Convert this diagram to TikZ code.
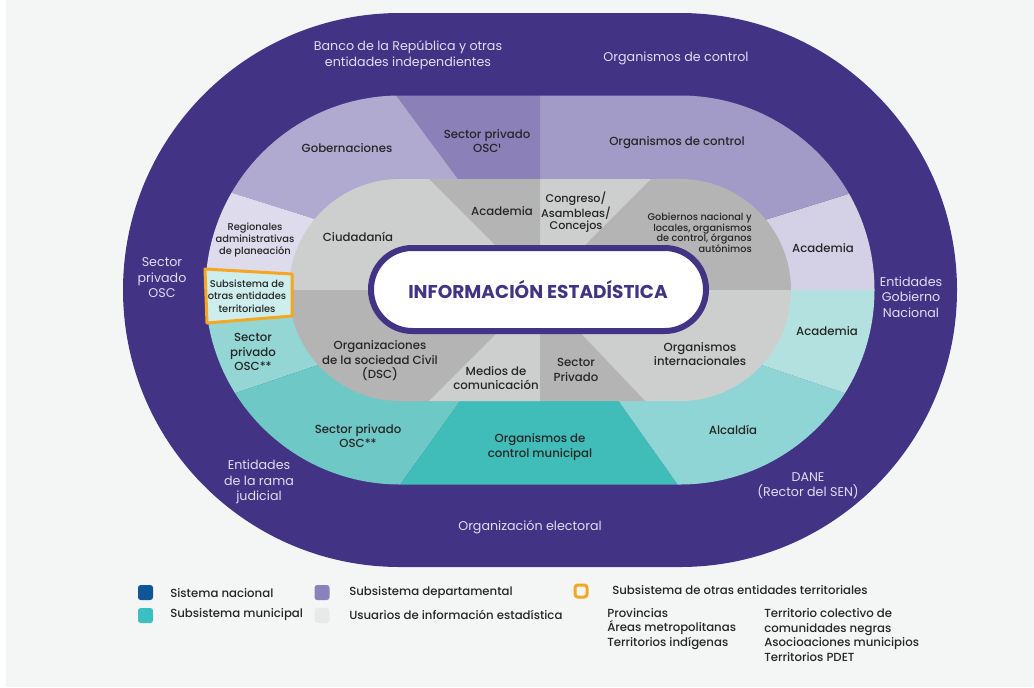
\documentclass[tikz,border=0pt]{standalone}
\usepackage{fontspec}
\setmainfont{Poppins}
\newfontfamily\popmed{Poppins Medium}
\definecolor{nacional}{HTML}{433385}
\definecolor{outtext}{HTML}{E2DEF2}
\definecolor{ink}{HTML}{262626}
\definecolor{panel}{HTML}{F4F6F6}
\definecolor{depA}{HTML}{B1AAD0}
\definecolor{depB}{HTML}{8C80B9}
\definecolor{depC}{HTML}{A39BC7}
\definecolor{depD}{HTML}{D4D0E6}
\definecolor{depE}{HTML}{DEDBEC}
\definecolor{munA}{HTML}{B3E1DF}
\definecolor{munB}{HTML}{90D5D5}
\definecolor{munC}{HTML}{40BCB9}
\definecolor{munD}{HTML}{6EC8C6}
\definecolor{munE}{HTML}{93D6D4}
\definecolor{usrL}{HTML}{CDCECE}
\definecolor{usrD}{HTML}{B4B4B4}
\definecolor{otras}{HTML}{F5A623}
\definecolor{otrasfill}{HTML}{CDEEED}
\definecolor{legblue}{HTML}{0F5597}
\definecolor{legteal}{HTML}{3CBFC0}
\definecolor{legpurple}{HTML}{8C80BD}
\definecolor{leggrey}{HTML}{E8E9E9}
% stadium of half height #1 round the two centres (400,290) and (680,290)
\newcommand\stadium[1]{(400,290-#1) -- (680,290-#1) arc[start angle=-90,end angle=90,radius=#1] -- (400,290+#1) arc[start angle=90,end angle=270,radius=#1] -- cycle}
% sector seen from the centre, angles counted anticlockwise
\newcommand\sectorfill[3]{\fill[#1] (540,290) -- ++(-#2:900) arc[start angle=-#2,end angle=-#3,radius=900] -- cycle;}
\begin{document}
\begin{tikzpicture}[x=0.75pt,y=-0.75pt,
    outlbl/.style={align=center, text=outtext, inner sep=0pt, font=\fontsize{9.5}{11.6}\selectfont},
    lbl/.style={align=center, text=ink, inner sep=0pt, font=\popmed\fontsize{8.8}{10.9}\selectfont},
    smalllbl/.style={align=center, text=ink, inner sep=0pt, font=\popmed\fontsize{7.4}{9.2}\selectfont},
    leglbl/.style={anchor=west, align=left, text=ink, inner sep=0pt, font=\popmed\fontsize{8.8}{11}\selectfont},
    legbox/.style={minimum width=11.25pt, minimum height=11.25pt, rounded corners=2pt, inner sep=0pt}]
\useasboundingbox (0,0) rectangle (1034,687);
\fill[white] (0,0) rectangle (1034,687);
\fill[panel] (6,0) rectangle (1034,687);
% sistema nacional
\fill[nacional] \stadium{277};
% subsistemas departamental y municipal
\begin{scope}
\clip \stadium{194.5};
\sectorfill{depD}{0}{17.3}
\sectorfill{depC}{17.3}{90}
\sectorfill{depB}{90}{126.5}
\sectorfill{depA}{126.5}{162.5}
\sectorfill{depE}{162.5}{180}
\sectorfill{munE}{180}{198.7}
\sectorfill{munD}{198.7}{234.3}
\sectorfill{munC}{234.3}{305.3}
\sectorfill{munB}{305.3}{341.3}
\sectorfill{munA}{341.3}{360}
\end{scope}
% usuarios
\begin{scope}
\clip \stadium{111};
\sectorfill{usrD}{0}{45}
\sectorfill{usrL}{45}{90}
\sectorfill{usrD}{90}{135}
\sectorfill{usrL}{135}{180}
\sectorfill{usrD}{180}{225}
\sectorfill{usrL}{225}{270}
\sectorfill{usrD}{270}{313.5}
\sectorfill{usrL}{313.5}{360}
\end{scope}
\fill[otrasfill, draw=otras, line width=2.25pt, line join=round] (205,269) -- (292,274) -- (292,316) -- (207,323) -- cycle;
\draw[nacional, fill=white, line width=4.5pt, rounded corners=31pt] (371,248) rectangle (706,331);
\node[text=nacional, font=\bfseries\fontsize{13.9}{16}\selectfont] (info) at (538,290) {INFORMACIÓN ESTADÍSTICA};

% anillo exterior
\node[outlbl] (banco) at (408,55) {Banco de la República y otras\\entidades independientes};
\node[outlbl] (controlN) at (676,58) {Organismos de control};
\node[outlbl] (privN) at (162,278) {Sector\\privado\\OSC};
\node[outlbl] (gobN) at (911,297) {Entidades\\Gobierno\\Nacional};
\node[outlbl] (judicial) at (259,482) {Entidades\\de la rama\\judicial};
\node[outlbl] (electoral) at (530,527) {Organización electoral};
\node[outlbl] (dane) at (808,486) {DANE\\(Rector del SEN)};

% anillo medio
\node[lbl] (gobernaciones) at (347,148) {Gobernaciones};
\node[lbl] (privD) at (487,141) {Sector privado\\OSC¹};
\node[lbl] (controlD) at (677,143) {Organismos de control};
\node[lbl] (acadD) at (823,248) {Academia};
\node[smalllbl] (regionales) at (255,240) {Regionales\\administrativas\\de planeación};
\node[smalllbl] (otrasent) at (247,296) {Subsistema de\\otras entidades\\territoriales};
\node[lbl] (privM) at (253,352) {Sector\\privado\\OSC**};
\node[lbl] (acadM) at (827,331) {Academia};
\node[lbl] (privMb) at (358,436) {Sector privado\\OSC**};
\node[lbl] (controlM) at (540,447) {Organismos de\\control municipal};
\node[lbl] (alcaldia) at (733,430) {Alcaldía};

% anillo interior
\node[lbl] (ciudadania) at (358,237) {Ciudadanía};
\node[lbl] (acadU) at (502,211) {Academia};
\node[smalllbl, font=\popmed\fontsize{8.4}{9}\selectfont] (congreso) at (576,212) {Congreso/\\Asambleas/\\Concejos};
\node[smalllbl, align=right, anchor=east, font=\popmed\fontsize{7.3}{7.9}\selectfont] (gobiernos) at (752,233) {Gobiernos nacional y\\locales, organismos\\de control, órganos\\autónimos};
\node[lbl] (dsc) at (380,361) {Organizaciones\\de la sociedad Civil\\(DSC)};
\node[lbl] (medios) at (496,378) {Medios de\\comunicación};
\node[lbl] (privU) at (576,370) {Sector\\Privado};
\node[lbl] (intl) at (700,354) {Organismos\\internacionales};

% leyenda
\node[legbox, fill=legblue] (kNac) at (145.5,592.5) {};
\node[leglbl] (tNac) at (170,593) {Sistema nacional};
\node[legbox, fill=legteal] (kMun) at (145.5,615.5) {};
\node[leglbl] (tMun) at (170,615) {Subsistema municipal};
\node[legbox, fill=legpurple] (kDep) at (322,592.5) {};
\node[leglbl] (tDep) at (349,593) {Subsistema departamental};
\node[legbox, fill=leggrey] (kUsr) at (322,615.5) {};
\node[leglbl] (tUsr) at (349,615) {Usuarios de información estadística};
\node[legbox, draw=otras, line width=2.25pt, minimum width=9pt, minimum height=9pt] (kOtr) at (581,591) {};
\node[leglbl] (tOtr) at (612,590) {Subsistema de otras entidades territoriales};
\node[leglbl] (listA) at (607,629) {Provincias\\Áreas metropolitanas\\Territorios indígenas};
\node[leglbl] (listB) at (764,635) {Territorio colectivo de\\comunidades negras\\Asocioaciones municipios\\Territorios PDET};
\end{tikzpicture}
\end{document}
